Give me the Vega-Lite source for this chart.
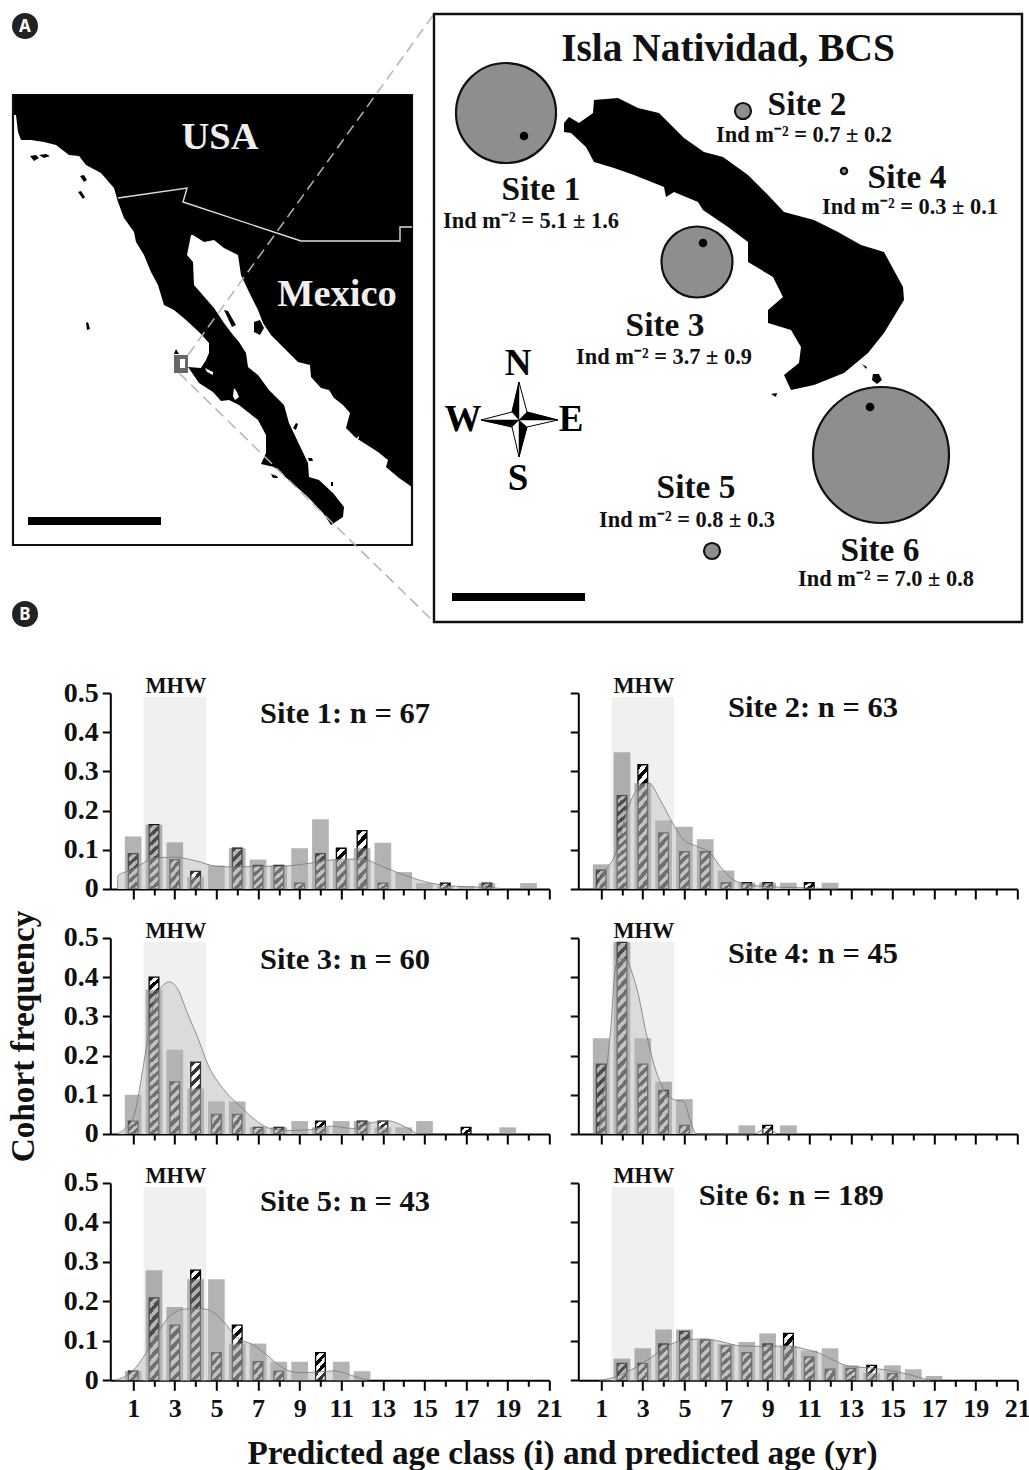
{"$schema":"https://vega.github.io/schema/vega-lite/v6.json","padding":{"left":5.3,"top":0,"right":0,"bottom":0},"background":"white","columns":2,"bounds":"flush","align":"each","spacing":{"row":49,"column":29},
"params":[
{"name":"g2","value":{"gradient":"linear","x1":0,"y1":0,"x2":1.088,"y2":0.899,"stops":[{"offset":0,"color":"#000"},{"offset":0.25,"color":"#000"},{"offset":0.25,"color":"#fff"},{"offset":0.5,"color":"#fff"},{"offset":0.5,"color":"#000"},{"offset":0.75,"color":"#000"},{"offset":0.75,"color":"#fff"},{"offset":1,"color":"#fff"}]}},
{"name":"g3","value":{"gradient":"linear","x1":0,"y1":0,"x2":0.712,"y2":1.175,"stops":[{"offset":0,"color":"#000"},{"offset":0.1667,"color":"#000"},{"offset":0.1667,"color":"#fff"},{"offset":0.3333,"color":"#fff"},{"offset":0.3333,"color":"#000"},{"offset":0.5,"color":"#000"},{"offset":0.5,"color":"#fff"},{"offset":0.6667,"color":"#fff"},{"offset":0.6667,"color":"#000"},{"offset":0.8333,"color":"#000"},{"offset":0.8333,"color":"#fff"},{"offset":1,"color":"#fff"}]}},
{"name":"g4","value":{"gradient":"linear","x1":0,"y1":0,"x2":0.468,"y2":1.206,"stops":[{"offset":0,"color":"#000"},{"offset":0.125,"color":"#000"},{"offset":0.125,"color":"#fff"},{"offset":0.25,"color":"#fff"},{"offset":0.25,"color":"#000"},{"offset":0.375,"color":"#000"},{"offset":0.375,"color":"#fff"},{"offset":0.5,"color":"#fff"},{"offset":0.5,"color":"#000"},{"offset":0.625,"color":"#000"},{"offset":0.625,"color":"#fff"},{"offset":0.75,"color":"#fff"},{"offset":0.75,"color":"#000"},{"offset":0.875,"color":"#000"},{"offset":0.875,"color":"#fff"},{"offset":1,"color":"#fff"}]}},
{"name":"g5","value":{"gradient":"linear","x1":0,"y1":0,"x2":0.2846,"y2":1.1735,"stops":[{"offset":0,"color":"#000"},{"offset":0.1,"color":"#000"},{"offset":0.1,"color":"#fff"},{"offset":0.2,"color":"#fff"},{"offset":0.2,"color":"#000"},{"offset":0.3,"color":"#000"},{"offset":0.3,"color":"#fff"},{"offset":0.4,"color":"#fff"},{"offset":0.4,"color":"#000"},{"offset":0.5,"color":"#000"},{"offset":0.5,"color":"#fff"},{"offset":0.6,"color":"#fff"},{"offset":0.6,"color":"#000"},{"offset":0.7,"color":"#000"},{"offset":0.7,"color":"#fff"},{"offset":0.8,"color":"#fff"},{"offset":0.8,"color":"#000"},{"offset":0.9,"color":"#000"},{"offset":0.9,"color":"#fff"},{"offset":1,"color":"#fff"}]}},
{"name":"g6","value":{"gradient":"linear","x1":0,"y1":0,"x2":0.2057,"y2":1.143,"stops":[{"offset":0,"color":"#000"},{"offset":0.0833,"color":"#000"},{"offset":0.0833,"color":"#fff"},{"offset":0.1667,"color":"#fff"},{"offset":0.1667,"color":"#000"},{"offset":0.25,"color":"#000"},{"offset":0.25,"color":"#fff"},{"offset":0.3333,"color":"#fff"},{"offset":0.3333,"color":"#000"},{"offset":0.4167,"color":"#000"},{"offset":0.4167,"color":"#fff"},{"offset":0.5,"color":"#fff"},{"offset":0.5,"color":"#000"},{"offset":0.5833,"color":"#000"},{"offset":0.5833,"color":"#fff"},{"offset":0.6667,"color":"#fff"},{"offset":0.6667,"color":"#000"},{"offset":0.75,"color":"#000"},{"offset":0.75,"color":"#fff"},{"offset":0.8333,"color":"#fff"},{"offset":0.8333,"color":"#000"},{"offset":0.9167,"color":"#000"},{"offset":0.9167,"color":"#fff"},{"offset":1,"color":"#fff"}]}},
{"name":"g8","value":{"gradient":"linear","x1":0,"y1":0,"x2":0.15,"y2":1.1145,"stops":[{"offset":0,"color":"#000"},{"offset":0.0625,"color":"#000"},{"offset":0.0625,"color":"#fff"},{"offset":0.125,"color":"#fff"},{"offset":0.125,"color":"#000"},{"offset":0.1875,"color":"#000"},{"offset":0.1875,"color":"#fff"},{"offset":0.25,"color":"#fff"},{"offset":0.25,"color":"#000"},{"offset":0.3125,"color":"#000"},{"offset":0.3125,"color":"#fff"},{"offset":0.375,"color":"#fff"},{"offset":0.375,"color":"#000"},{"offset":0.4375,"color":"#000"},{"offset":0.4375,"color":"#fff"},{"offset":0.5,"color":"#fff"},{"offset":0.5,"color":"#000"},{"offset":0.5625,"color":"#000"},{"offset":0.5625,"color":"#fff"},{"offset":0.625,"color":"#fff"},{"offset":0.625,"color":"#000"},{"offset":0.6875,"color":"#000"},{"offset":0.6875,"color":"#fff"},{"offset":0.75,"color":"#fff"},{"offset":0.75,"color":"#000"},{"offset":0.8125,"color":"#000"},{"offset":0.8125,"color":"#fff"},{"offset":0.875,"color":"#fff"},{"offset":0.875,"color":"#000"},{"offset":0.9375,"color":"#000"},{"offset":0.9375,"color":"#fff"},{"offset":1,"color":"#fff"}]}},
{"name":"g12","value":{"gradient":"linear","x1":0,"y1":0,"x2":0.0952,"y2":1.0798,"stops":[{"offset":0,"color":"#000"},{"offset":0.0417,"color":"#000"},{"offset":0.0417,"color":"#fff"},{"offset":0.0833,"color":"#fff"},{"offset":0.0833,"color":"#000"},{"offset":0.125,"color":"#000"},{"offset":0.125,"color":"#fff"},{"offset":0.1667,"color":"#fff"},{"offset":0.1667,"color":"#000"},{"offset":0.2083,"color":"#000"},{"offset":0.2083,"color":"#fff"},{"offset":0.25,"color":"#fff"},{"offset":0.25,"color":"#000"},{"offset":0.2917,"color":"#000"},{"offset":0.2917,"color":"#fff"},{"offset":0.3333,"color":"#fff"},{"offset":0.3333,"color":"#000"},{"offset":0.375,"color":"#000"},{"offset":0.375,"color":"#fff"},{"offset":0.4167,"color":"#fff"},{"offset":0.4167,"color":"#000"},{"offset":0.4583,"color":"#000"},{"offset":0.4583,"color":"#fff"},{"offset":0.5,"color":"#fff"},{"offset":0.5,"color":"#000"},{"offset":0.5417,"color":"#000"},{"offset":0.5417,"color":"#fff"},{"offset":0.5833,"color":"#fff"},{"offset":0.5833,"color":"#000"},{"offset":0.625,"color":"#000"},{"offset":0.625,"color":"#fff"},{"offset":0.6667,"color":"#fff"},{"offset":0.6667,"color":"#000"},{"offset":0.7083,"color":"#000"},{"offset":0.7083,"color":"#fff"},{"offset":0.75,"color":"#fff"},{"offset":0.75,"color":"#000"},{"offset":0.7917,"color":"#000"},{"offset":0.7917,"color":"#fff"},{"offset":0.8333,"color":"#fff"},{"offset":0.8333,"color":"#000"},{"offset":0.875,"color":"#000"},{"offset":0.875,"color":"#fff"},{"offset":0.9167,"color":"#fff"},{"offset":0.9167,"color":"#000"},{"offset":0.9583,"color":"#000"},{"offset":0.9583,"color":"#fff"},{"offset":1,"color":"#fff"}]}},
{"name":"g18","value":{"gradient":"linear","x1":0,"y1":0,"x2":0.0583,"y2":1.0522,"stops":[{"offset":0,"color":"#000"},{"offset":0.0278,"color":"#000"},{"offset":0.0278,"color":"#fff"},{"offset":0.0556,"color":"#fff"},{"offset":0.0556,"color":"#000"},{"offset":0.0833,"color":"#000"},{"offset":0.0833,"color":"#fff"},{"offset":0.1111,"color":"#fff"},{"offset":0.1111,"color":"#000"},{"offset":0.1389,"color":"#000"},{"offset":0.1389,"color":"#fff"},{"offset":0.1667,"color":"#fff"},{"offset":0.1667,"color":"#000"},{"offset":0.1944,"color":"#000"},{"offset":0.1944,"color":"#fff"},{"offset":0.2222,"color":"#fff"},{"offset":0.2222,"color":"#000"},{"offset":0.25,"color":"#000"},{"offset":0.25,"color":"#fff"},{"offset":0.2778,"color":"#fff"},{"offset":0.2778,"color":"#000"},{"offset":0.3056,"color":"#000"},{"offset":0.3056,"color":"#fff"},{"offset":0.3333,"color":"#fff"},{"offset":0.3333,"color":"#000"},{"offset":0.3611,"color":"#000"},{"offset":0.3611,"color":"#fff"},{"offset":0.3889,"color":"#fff"},{"offset":0.3889,"color":"#000"},{"offset":0.4167,"color":"#000"},{"offset":0.4167,"color":"#fff"},{"offset":0.4444,"color":"#fff"},{"offset":0.4444,"color":"#000"},{"offset":0.4722,"color":"#000"},{"offset":0.4722,"color":"#fff"},{"offset":0.5,"color":"#fff"},{"offset":0.5,"color":"#000"},{"offset":0.5278,"color":"#000"},{"offset":0.5278,"color":"#fff"},{"offset":0.5556,"color":"#fff"},{"offset":0.5556,"color":"#000"},{"offset":0.5833,"color":"#000"},{"offset":0.5833,"color":"#fff"},{"offset":0.6111,"color":"#fff"},{"offset":0.6111,"color":"#000"},{"offset":0.6389,"color":"#000"},{"offset":0.6389,"color":"#fff"},{"offset":0.6667,"color":"#fff"},{"offset":0.6667,"color":"#000"},{"offset":0.6944,"color":"#000"},{"offset":0.6944,"color":"#fff"},{"offset":0.7222,"color":"#fff"},{"offset":0.7222,"color":"#000"},{"offset":0.75,"color":"#000"},{"offset":0.75,"color":"#fff"},{"offset":0.7778,"color":"#fff"},{"offset":0.7778,"color":"#000"},{"offset":0.8056,"color":"#000"},{"offset":0.8056,"color":"#fff"},{"offset":0.8333,"color":"#fff"},{"offset":0.8333,"color":"#000"},{"offset":0.8611,"color":"#000"},{"offset":0.8611,"color":"#fff"},{"offset":0.8889,"color":"#fff"},{"offset":0.8889,"color":"#000"},{"offset":0.9167,"color":"#000"},{"offset":0.9167,"color":"#fff"},{"offset":0.9444,"color":"#fff"},{"offset":0.9444,"color":"#000"},{"offset":0.9722,"color":"#000"},{"offset":0.9722,"color":"#fff"},{"offset":1,"color":"#fff"}]}}
],
"datasets":{
"mhw":[{"from":1.5,"to":4.5,"low":0,"high":0.49}],
"notes":[
{"site":1,"t":"MHW","age":3.05,"v":0.5,"kind":"band"},{"site":1,"t":"Site 1: n = 67","age":11.18,"v":0.446,"kind":"n"},
{"site":2,"t":"MHW","age":3.05,"v":0.5,"kind":"band"},{"site":2,"t":"Site 2: n = 63","age":11.18,"v":0.462,"kind":"n"},
{"site":3,"t":"MHW","age":3.05,"v":0.5,"kind":"band"},{"site":3,"t":"Site 3: n = 60","age":11.18,"v":0.445,"kind":"n"},
{"site":4,"t":"MHW","age":3.05,"v":0.5,"kind":"band"},{"site":4,"t":"Site 4: n = 45","age":11.18,"v":0.46,"kind":"n"},
{"site":5,"t":"MHW","age":3.05,"v":0.5,"kind":"band"},{"site":5,"t":"Site 5: n = 43","age":11.18,"v":0.452,"kind":"n"},
{"site":6,"t":"MHW","age":3.05,"v":0.5,"kind":"band"},{"site":6,"t":"Site 6: n = 189","age":10.14,"v":0.467,"kind":"n"}
],
"hatched":[
{"site":1,"age":1,"v":0.09},{"site":1,"age":2,"v":0.164},{"site":1,"age":3,"v":0.075},{"site":1,"age":4,"v":0.045},{"site":1,"age":6,"v":0.104},{"site":1,"age":7,"v":0.06},{"site":1,"age":8,"v":0.06},{"site":1,"age":9,"v":0.015},{"site":1,"age":10,"v":0.09},{"site":1,"age":11,"v":0.104},{"site":1,"age":12,"v":0.149},{"site":1,"age":13,"v":0.015},{"site":1,"age":16,"v":0.015},{"site":1,"age":18,"v":0.015},
{"site":2,"age":1,"v":0.048},{"site":2,"age":2,"v":0.238},{"site":2,"age":3,"v":0.317},{"site":2,"age":4,"v":0.143},{"site":2,"age":5,"v":0.095},{"site":2,"age":6,"v":0.095},{"site":2,"age":7,"v":0.016},{"site":2,"age":8,"v":0.016},{"site":2,"age":9,"v":0.016},{"site":2,"age":11,"v":0.016},
{"site":3,"age":1,"v":0.033},{"site":3,"age":2,"v":0.4},{"site":3,"age":3,"v":0.133},{"site":3,"age":4,"v":0.183},{"site":3,"age":5,"v":0.05},{"site":3,"age":6,"v":0.05},{"site":3,"age":7,"v":0.017},{"site":3,"age":8,"v":0.017},{"site":3,"age":10,"v":0.033},{"site":3,"age":12,"v":0.033},{"site":3,"age":13,"v":0.033},{"site":3,"age":17,"v":0.017},
{"site":4,"age":1,"v":0.178},{"site":4,"age":2,"v":0.489},{"site":4,"age":3,"v":0.178},{"site":4,"age":4,"v":0.111},{"site":4,"age":5,"v":0.022},{"site":4,"age":9,"v":0.022},
{"site":5,"age":1,"v":0.023},{"site":5,"age":2,"v":0.209},{"site":5,"age":3,"v":0.14},{"site":5,"age":4,"v":0.279},{"site":5,"age":5,"v":0.07},{"site":5,"age":6,"v":0.14},{"site":5,"age":7,"v":0.047},{"site":5,"age":8,"v":0.023},{"site":5,"age":10,"v":0.07},
{"site":6,"age":2,"v":0.043},{"site":6,"age":3,"v":0.043},{"site":6,"age":4,"v":0.092},{"site":6,"age":5,"v":0.124},{"site":6,"age":6,"v":0.102},{"site":6,"age":7,"v":0.087},{"site":6,"age":8,"v":0.07},{"site":6,"age":9,"v":0.092},{"site":6,"age":10,"v":0.119},{"site":6,"age":11,"v":0.059},{"site":6,"age":12,"v":0.028},{"site":6,"age":13,"v":0.03},{"site":6,"age":14,"v":0.038},{"site":6,"age":15,"v":0.017}
],
"light":[
{"site":1,"age":1,"v":0.134},{"site":1,"age":2,"v":0.164},{"site":1,"age":3,"v":0.119},{"site":1,"age":4,"v":0.03},{"site":1,"age":5,"v":0.06},{"site":1,"age":6,"v":0.104},{"site":1,"age":7,"v":0.075},{"site":1,"age":8,"v":0.06},{"site":1,"age":9,"v":0.104},{"site":1,"age":10,"v":0.178},{"site":1,"age":11,"v":0.074},{"site":1,"age":12,"v":0.104},{"site":1,"age":13,"v":0.118},{"site":1,"age":14,"v":0.043},{"site":1,"age":15,"v":0.015},{"site":1,"age":16,"v":0.007},{"site":1,"age":17,"v":0.007},{"site":1,"age":18,"v":0.015},{"site":1,"age":20,"v":0.015},
{"site":2,"age":1,"v":0.063},{"site":2,"age":2,"v":0.349},{"site":2,"age":3,"v":0.27},{"site":2,"age":4,"v":0.175},{"site":2,"age":5,"v":0.159},{"site":2,"age":6,"v":0.127},{"site":2,"age":7,"v":0.047},{"site":2,"age":8,"v":0.016},{"site":2,"age":9,"v":0.016},{"site":2,"age":10,"v":0.016},{"site":2,"age":12,"v":0.016},
{"site":3,"age":1,"v":0.1},{"site":3,"age":2,"v":0.368},{"site":3,"age":3,"v":0.215},{"site":3,"age":4,"v":0.116},{"site":3,"age":5,"v":0.083},{"site":3,"age":6,"v":0.083},{"site":3,"age":7,"v":0.017},{"site":3,"age":8,"v":0.017},{"site":3,"age":9,"v":0.033},{"site":3,"age":10,"v":0.017},{"site":3,"age":11,"v":0.033},{"site":3,"age":12,"v":0.033},{"site":3,"age":13,"v":0.017},{"site":3,"age":14,"v":0.017},{"site":3,"age":15,"v":0.033},{"site":3,"age":19,"v":0.017},
{"site":4,"age":1,"v":0.244},{"site":4,"age":2,"v":0.489},{"site":4,"age":3,"v":0.244},{"site":4,"age":4,"v":0.133},{"site":4,"age":5,"v":0.089},{"site":4,"age":8,"v":0.022},{"site":4,"age":10,"v":0.022},
{"site":5,"age":1,"v":0.023},{"site":5,"age":2,"v":0.279},{"site":5,"age":3,"v":0.186},{"site":5,"age":4,"v":0.256},{"site":5,"age":5,"v":0.256},{"site":5,"age":6,"v":0.093},{"site":5,"age":7,"v":0.093},{"site":5,"age":8,"v":0.047},{"site":5,"age":9,"v":0.047},{"site":5,"age":11,"v":0.047},{"site":5,"age":12,"v":0.023},
{"site":6,"age":2,"v":0.055},{"site":6,"age":3,"v":0.081},{"site":6,"age":4,"v":0.129},{"site":6,"age":5,"v":0.129},{"site":6,"age":6,"v":0.102},{"site":6,"age":7,"v":0.092},{"site":6,"age":8,"v":0.097},{"site":6,"age":9,"v":0.119},{"site":6,"age":10,"v":0.087},{"site":6,"age":11,"v":0.075},{"site":6,"age":12,"v":0.081},{"site":6,"age":13,"v":0.038},{"site":6,"age":14,"v":0.019},{"site":6,"age":15,"v":0.038},{"site":6,"age":16,"v":0.028},{"site":6,"age":17,"v":0.011}
],
"kde":[
{"site":1,"age":0.25,"v":0},{"site":1,"age":0.26,"v":0.034},{"site":1,"age":1,"v":0.05},{"site":1,"age":2,"v":0.079},{"site":1,"age":3,"v":0.081},{"site":1,"age":4,"v":0.072},{"site":1,"age":5,"v":0.058},{"site":1,"age":6,"v":0.056},{"site":1,"age":7,"v":0.058},{"site":1,"age":8,"v":0.058},{"site":1,"age":9,"v":0.062},{"site":1,"age":10,"v":0.07},{"site":1,"age":11,"v":0.076},{"site":1,"age":12,"v":0.076},{"site":1,"age":13,"v":0.057},{"site":1,"age":14,"v":0.036},{"site":1,"age":15,"v":0.019},{"site":1,"age":16,"v":0.009},{"site":1,"age":17,"v":0.006},{"site":1,"age":18,"v":0.004},{"site":1,"age":19,"v":0},
{"site":2,"age":0.73,"v":0},{"site":2,"age":1,"v":0.031},{"site":2,"age":1.69,"v":0.091},{"site":2,"age":2.25,"v":0.2},{"site":2,"age":2.9,"v":0.264},{"site":2,"age":3.29,"v":0.27},{"site":2,"age":3.85,"v":0.226},{"site":2,"age":4.49,"v":0.163},{"site":2,"age":4.97,"v":0.125},{"site":2,"age":5.6,"v":0.109},{"site":2,"age":6.25,"v":0.091},{"site":2,"age":6.73,"v":0.057},{"site":2,"age":7.37,"v":0.023},{"site":2,"age":8,"v":0.012},{"site":2,"age":9,"v":0.006},{"site":2,"age":10.7,"v":0.003},{"site":2,"age":12.3,"v":0},
{"site":3,"age":0.23,"v":0},{"site":3,"age":0.55,"v":0.011},{"site":3,"age":1.03,"v":0.045},{"site":3,"age":1.51,"v":0.181},{"site":3,"age":1.99,"v":0.334},{"site":3,"age":2.39,"v":0.377},{"site":3,"age":2.75,"v":0.388},{"site":3,"age":3.12,"v":0.372},{"site":3,"age":3.6,"v":0.309},{"site":3,"age":4.08,"v":0.249},{"site":3,"age":4.56,"v":0.181},{"site":3,"age":5.36,"v":0.113},{"site":3,"age":6.16,"v":0.07},{"site":3,"age":6.96,"v":0.032},{"site":3,"age":7.6,"v":0.014},{"site":3,"age":8.56,"v":0.009},{"site":3,"age":9.53,"v":0.011},{"site":3,"age":10.49,"v":0.02},{"site":3,"age":11.6,"v":0.014},{"site":3,"age":12.41,"v":0.028},{"site":3,"age":13.21,"v":0.034},{"site":3,"age":13.85,"v":0.024},{"site":3,"age":14.65,"v":0},
{"site":4,"age":0.89,"v":0},{"site":4,"age":1.13,"v":0.109},{"site":4,"age":1.45,"v":0.263},{"site":4,"age":1.69,"v":0.425},{"site":4,"age":1.93,"v":0.446},{"site":4,"age":2.17,"v":0.447},{"site":4,"age":2.49,"v":0.41},{"site":4,"age":2.81,"v":0.35},{"site":4,"age":3.13,"v":0.265},{"site":4,"age":3.69,"v":0.152},{"site":4,"age":4.17,"v":0.101},{"site":4,"age":4.49,"v":0.088},{"site":4,"age":4.97,"v":0.082},{"site":4,"age":5.29,"v":0.033},{"site":4,"age":5.58,"v":0},{"site":4,"age":8.33,"v":0},{"site":4,"age":8.92,"v":0.015},{"site":4,"age":9.45,"v":0},
{"site":5,"age":0.15,"v":0},{"site":5,"age":1,"v":0.025},{"site":5,"age":1.59,"v":0.067},{"site":5,"age":2.15,"v":0.118},{"site":5,"age":2.79,"v":0.164},{"site":5,"age":3.6,"v":0.181},{"site":5,"age":4.4,"v":0.181},{"site":5,"age":5.36,"v":0.148},{"site":5,"age":5.95,"v":0.11},{"site":5,"age":6.8,"v":0.089},{"site":5,"age":7.44,"v":0.063},{"site":5,"age":8.24,"v":0.03},{"site":5,"age":9.04,"v":0.019},{"site":5,"age":9.85,"v":0.021},{"site":5,"age":10.65,"v":0.024},{"site":5,"age":11.45,"v":0.013},{"site":5,"age":12.25,"v":0},
{"site":6,"age":0.92,"v":0},{"site":6,"age":1.64,"v":0.008},{"site":6,"age":2.36,"v":0.024},{"site":6,"age":3.41,"v":0.058},{"site":6,"age":4.37,"v":0.092},{"site":6,"age":5.01,"v":0.102},{"site":6,"age":5.98,"v":0.105},{"site":6,"age":6.78,"v":0.098},{"site":6,"age":7.74,"v":0.087},{"site":6,"age":9.03,"v":0.086},{"site":6,"age":9.99,"v":0.087},{"site":6,"age":10.79,"v":0.079},{"site":6,"age":11.43,"v":0.07},{"site":6,"age":12.24,"v":0.049},{"site":6,"age":12.88,"v":0.036},{"site":6,"age":14,"v":0.031},{"site":6,"age":14.96,"v":0.024},{"site":6,"age":15.77,"v":0.015},{"site":6,"age":16.57,"v":0.003},{"site":6,"age":16.8,"v":0}
]},
"concat":[
{"width":439,"height":643.7,"projection":{"type":"identity","scale":1,"translate":[-109.3,0]},"layer":[
{"data":{"values":[{"type":"Feature","properties":{},"geometry":{"type":"Polygon","coordinates":[[[12,95],[411,95],[411,545],[12,545],[12,95]]]}}]},"mark":{"type":"geoshape","clip":false,"fill":"white","stroke":"#111","strokeWidth":2.2},"encoding":{}},
{"data":{"values":[{"type":"Feature","properties":{},"geometry":{"type":"MultiPolygon","coordinates":[[[[13,95],[411,95],[411,487],[398,478],[385,467],[387,460],[377,452],[363,443],[355,438],[345,428],[349,413],[342,405],[333,398],[328,390],[320,388],[310,377],[309,365],[297,362],[283,348],[270,335],[262,323],[257,310],[248,292],[240,275],[237,255],[223,248],[213,240],[203,242],[192,235],[190,235],[186,255],[192,262],[193,285],[213,308],[223,323],[232,335],[238,342],[245,353],[247,367],[257,375],[268,390],[275,397],[283,405],[288,423],[297,442],[307,463],[308,477],[318,480],[332,493],[343,507],[342,517],[330,525],[322,513],[307,497],[290,482],[273,467],[260,464],[265,453],[265,435],[257,420],[238,405],[228,400],[220,401],[212,392],[198,383],[187,367],[200,368],[205,360],[208,353],[208,343],[198,332],[185,320],[173,310],[163,305],[157,285],[150,272],[143,255],[135,242],[133,232],[123,218],[117,202],[113,188],[100,173],[85,165],[78,156],[68,155],[55,145],[43,142],[30,140],[20,140],[17,132],[15,115],[13,115],[13,95]]],[[[253,322],[259,320],[263,328],[259,335],[253,332],[253,322]]],[[[223,310],[227,311],[235,325],[231,327],[223,310]]],[[[292,428],[295,423],[297,424],[295,430],[292,428]]],[[[307,458],[311,458],[312,461],[308,461],[307,458]]],[[[330,482],[332,482],[332,486],[330,486],[330,482]]],[[[270,474],[276,476],[277,478],[272,478],[270,474]]],[[[173,354],[175,349],[178,354],[173,354]]],[[[29,156],[35,155],[38,158],[33,161],[29,156]]],[[[38,155],[45,154],[49,156],[43,158],[38,155]]],[[[79,176],[83,175],[86,180],[83,182],[79,176]]],[[[77,192],[80,191],[84,197],[82,199],[77,192]]],[[[85,323],[87,322],[89,329],[86,330],[85,323]]]]}}]},"mark":{"type":"geoshape","clip":false,"fill":"#000","stroke":null},"encoding":{}},
{"data":{"values":[{"type":"Feature","properties":{},"geometry":{"type":"MultiPolygon","coordinates":[[[[233,388],[236,392],[238,397],[234,400],[232,396],[233,388]]],[[[354,440],[358,436],[358,438],[355,441],[354,440]]],[[[204,368],[212,372],[212,375],[206,372],[204,368]]]]}}]},"mark":{"type":"geoshape","clip":false,"fill":"#fff","stroke":null},"encoding":{}},
{"data":{"values":[{"type":"Feature","properties":{},"geometry":{"type":"LineString","coordinates":[[117,198],[186,188],[182,202],[300,241],[399,241],[399,227],[411,227]]}}]},"mark":{"type":"geoshape","clip":false,"filled":false,"fill":null,"stroke":"#ddd","strokeWidth":1.4},"encoding":{}},
{"data":{"values":[{"type":"Feature","properties":{},"geometry":{"type":"Polygon","coordinates":[[[173,355],[187,355],[187,373],[173,373],[173,355]]]}}]},"mark":{"type":"geoshape","clip":false,"fill":"#666","stroke":null},"encoding":{}},
{"data":{"values":[{"type":"Feature","properties":{},"geometry":{"type":"Polygon","coordinates":[[[179,359],[184,359],[184,368],[179,368],[179,359]]]}}]},"mark":{"type":"geoshape","clip":false,"fill":"#fff","stroke":null},"encoding":{}},
{"data":{"values":[{"type":"Feature","properties":{},"geometry":{"type":"MultiLineString","coordinates":[[[187,355],[433,14]],[[178,373],[433,622]]]}}]},"mark":{"type":"geoshape","clip":false,"filled":false,"fill":null,"stroke":"#b4b4b4","strokeWidth":1.5,"strokeDash":[11,6]},"encoding":{}},
{"data":{"values":[{"type":"Feature","properties":{},"geometry":{"type":"LineString","coordinates":[[27,521],[160,521]]}}]},"mark":{"type":"geoshape","clip":false,"filled":false,"fill":null,"stroke":"#000","strokeWidth":8},"encoding":{}},
{"data":{"values":[{"lon":219,"lat":137,"t":"USA"},{"lon":336,"lat":294,"t":"Mexico"}]},"mark":{"type":"text","clip":false,"fontSize":38.5,"color":"#eee","baseline":"middle"},"encoding":{"longitude":{"field":"lon","type":"quantitative"},"latitude":{"field":"lat","type":"quantitative"},"text":{"field":"t"}}},
{"data":{"values":[{"lon":24,"lat":26},{"lon":24,"lat":614}]},"mark":{"type":"point","clip":false,"filled":true,"size":676,"color":"#222","opacity":1},"encoding":{"longitude":{"field":"lon","type":"quantitative"},"latitude":{"field":"lat","type":"quantitative"}}},
{"data":{"values":[{"lon":24,"lat":27,"t":"A"},{"lon":24,"lat":615,"t":"B"}]},"mark":{"type":"text","clip":false,"font":"Noto Sans","fontSize":17,"color":"#fff","baseline":"middle"},"encoding":{"longitude":{"field":"lon","type":"quantitative"},"latitude":{"field":"lat","type":"quantitative"},"text":{"field":"t"}}},
{"data":{"values":[{"type":"Feature","properties":{},"geometry":{"type":"Polygon","coordinates":[[[433,14],[1021,14],[1021,622],[433,622],[433,14]]]}}]},"mark":{"type":"geoshape","clip":false,"fill":"white","stroke":"#111","strokeWidth":2.4},"encoding":{}},
{"data":{"values":[{"type":"Feature","properties":{},"geometry":{"type":"MultiPolygon","coordinates":[[[[563,123],[568,117],[578,123],[592,113],[593,100],[617,98],[637,108],[658,113],[683,138],[703,152],[722,157],[747,175],[767,195],[783,212],[813,220],[837,232],[860,245],[883,252],[902,287],[903,300],[883,333],[867,353],[843,373],[813,385],[790,390],[783,375],[798,363],[800,347],[790,330],[767,323],[767,310],[782,297],[772,277],[747,262],[747,242],[727,227],[702,210],[697,202],[673,192],[665,197],[663,187],[633,175],[613,168],[593,162],[585,147],[570,133],[563,132],[563,123]]],[[[872,374],[878,374],[881,380],[876,384],[871,380],[872,374]]],[[[770,394],[776,393],[775,397],[770,394]]],[[[861,364],[866,367],[865,369],[861,364]]]]}}]},"mark":{"type":"geoshape","clip":false,"fill":"#000","stroke":null},"encoding":{}},
{"data":{"values":[{"site":"Site 1","density":5.1,"lon":505,"lat":113},{"site":"Site 2","density":0.7,"lon":742,"lat":111},{"site":"Site 3","density":3.7,"lon":696,"lat":262},{"site":"Site 4","density":0.3,"lon":843,"lat":171},{"site":"Site 5","density":0.8,"lon":711,"lat":551},{"site":"Site 6","density":7.0,"lon":880,"lat":455}]},"mark":{"type":"point","clip":false,"filled":true,"fill":"#8e8e8e","stroke":"#111","strokeWidth":2.2,"opacity":1},"encoding":{"longitude":{"field":"lon","type":"quantitative"},"latitude":{"field":"lat","type":"quantitative"},"size":{"field":"density","type":"quantitative","legend":null,"scale":{"domain":[0.3,0.7,0.8,3.7,5.1,7],"range":[40,256,256,5041,10000,18496],"zero":false}}}},
{"data":{"values":[{"lon":523,"lat":136},{"lon":702,"lat":243},{"lon":869,"lat":407}]},"mark":{"type":"point","clip":false,"filled":true,"color":"#000","size":75,"opacity":1},"encoding":{"longitude":{"field":"lon","type":"quantitative"},"latitude":{"field":"lat","type":"quantitative"}}},
{"data":{"values":[{"type":"Feature","properties":{},"geometry":{"type":"Polygon","coordinates":[[[518,382],[526,412],[557,420],[526,427],[518,457],[511,427],[480,420],[511,412],[518,382]]]}}]},"mark":{"type":"geoshape","clip":false,"fill":"#fff","stroke":"#000","strokeWidth":1},"encoding":{}},
{"data":{"values":[{"type":"Feature","properties":{},"geometry":{"type":"MultiPolygon","coordinates":[[[[518,382],[518,420],[511,412],[518,382]]],[[[557,420],[518,420],[526,412],[557,420]]],[[[518,457],[518,420],[526,427],[518,457]]],[[[480,420],[518,420],[511,427],[480,420]]]]}}]},"mark":{"type":"geoshape","clip":false,"fill":"#000","stroke":"#000","strokeWidth":0.5},"encoding":{}},
{"data":{"values":[{"type":"Feature","properties":{},"geometry":{"type":"LineString","coordinates":[[451,597],[584,597]]}}]},"mark":{"type":"geoshape","clip":false,"filled":false,"fill":null,"stroke":"#000","strokeWidth":8},"encoding":{}},
{"data":{"values":[{"lon":727,"lat":49,"t":"Isla Natividad, BCS"}]},"mark":{"type":"text","clip":false,"fontSize":39.4,"color":"#111","baseline":"middle"},"encoding":{"longitude":{"field":"lon","type":"quantitative"},"latitude":{"field":"lat","type":"quantitative"},"text":{"field":"t"}}},
{"data":{"values":[{"lon":540,"lat":190,"t":"Site 1"},{"lon":806,"lat":105,"t":"Site 2"},{"lon":906,"lat":178,"t":"Site 4"},{"lon":664,"lat":326,"t":"Site 3"},{"lon":695,"lat":488,"t":"Site 5"},{"lon":879,"lat":551,"t":"Site 6"}]},"mark":{"type":"text","clip":false,"fontSize":33.4,"color":"#111","baseline":"middle"},"encoding":{"longitude":{"field":"lon","type":"quantitative"},"latitude":{"field":"lat","type":"quantitative"},"text":{"field":"t"}}},
{"data":{"values":[{"lon":530,"lat":221,"t":"Ind m⁻² = 5.1 ± 1.6"},{"lon":803,"lat":135,"t":"Ind m⁻² = 0.7 ± 0.2"},{"lon":909,"lat":207,"t":"Ind m⁻² = 0.3 ± 0.1"},{"lon":663,"lat":357,"t":"Ind m⁻² = 3.7 ± 0.9"},{"lon":686,"lat":520,"t":"Ind m⁻² = 0.8 ± 0.3"},{"lon":885,"lat":579,"t":"Ind m⁻² = 7.0 ± 0.8"}]},"mark":{"type":"text","clip":false,"fontSize":22.4,"color":"#111","baseline":"middle"},"encoding":{"longitude":{"field":"lon","type":"quantitative"},"latitude":{"field":"lat","type":"quantitative"},"text":{"field":"t"}}},
{"data":{"values":[{"lon":517,"lat":364,"t":"N"},{"lon":517,"lat":479,"t":"S"},{"lon":462,"lat":420,"t":"W"},{"lon":570,"lat":420,"t":"E"}]},"mark":{"type":"text","clip":false,"fontSize":37,"color":"#000","baseline":"middle"},"encoding":{"longitude":{"field":"lon","type":"quantitative"},"latitude":{"field":"lat","type":"quantitative"},"text":{"field":"t"}}}
]},
{"width":439,"height":643.7,"data":{"values":[]},"mark":{"type":"text"},"encoding":{}},
{"width":439,"height":196,"encoding":{"x":{"field":"age","type":"quantitative","scale":{"domain":[-0.1,21],"nice":false,"zero":false,"padding":0},"axis":{"values":[1,2,3,4,5,6,7,8,9,10,11,12,13,14,15,16,17,18,19,20,21],"labels":false,"title":null,"tickSize":{"condition":{"test":"datum.value%2==1","value":10},"value":6}}},"y":{"field":"v","type":"quantitative","scale":{"domain":[0,0.5],"nice":false},"axis":{"values":[0,0.1,0.2,0.3,0.4,0.5],"title":null,"labelExpr":"datum.value==0?'0':format(datum.value,'.1f')"}}},"layer":[
{"data":{"name":"mhw"},"mark":{"type":"rect","color":"#f0f0f0"},"encoding":{"x":{"field":"from","type":"quantitative"},"x2":{"field":"to"},"y":{"field":"low","type":"quantitative"},"y2":{"field":"high"}}},
{"data":{"name":"kde"},"transform":[{"filter":"datum.site==1"}],"mark":{"type":"area","interpolate":"monotone","fill":"#d2d2d2"}},
{"data":{"name":"hatched"},"transform":[{"filter":"datum.site==1"}],"mark":{"type":"bar","orient":"vertical","width":9.7,"stroke":"#000","strokeWidth":1.3,"fill":{"expr":"datum.v<.03?g2:datum.v<.055?g3:datum.v<.08?g4:datum.v<.12?g5:datum.v<.15?g6:datum.v<.22?g8:datum.v<.33?g12:g18"}}},
{"data":{"name":"light"},"transform":[{"filter":"datum.site==1"}],"mark":{"type":"bar","orient":"vertical","width":16.7,"color":"#808080","opacity":0.6}},
{"data":{"name":"kde"},"transform":[{"filter":"datum.site==1"}],"mark":{"type":"area","interpolate":"monotone","fill":"#fff","fillOpacity":0.2,"line":{"color":"#777","strokeWidth":0.8}}},
{"data":{"name":"notes"},"transform":[{"filter":"datum.site==1&&datum.kind=='band'"}],"mark":{"type":"text","fontSize":22.4,"baseline":"alphabetic"},"encoding":{"text":{"field":"t"}}},
{"data":{"name":"notes"},"transform":[{"filter":"datum.site==1&&datum.kind=='n'"}],"mark":{"type":"text","fontSize":30.5,"baseline":"middle"},"encoding":{"text":{"field":"t"}}}
]},
{"width":439,"height":196,"encoding":{"x":{"field":"age","type":"quantitative","scale":{"domain":[-0.1,21],"nice":false,"zero":false,"padding":0},"axis":{"values":[1,2,3,4,5,6,7,8,9,10,11,12,13,14,15,16,17,18,19,20,21],"labels":false,"title":null,"tickSize":{"condition":{"test":"datum.value%2==1","value":10},"value":6}}},"y":{"field":"v","type":"quantitative","scale":{"domain":[0,0.5],"nice":false},"axis":{"values":[0,0.1,0.2,0.3,0.4,0.5],"title":null,"labels":false}}},"layer":[
{"data":{"name":"mhw"},"mark":{"type":"rect","color":"#f0f0f0"},"encoding":{"x":{"field":"from","type":"quantitative"},"x2":{"field":"to"},"y":{"field":"low","type":"quantitative"},"y2":{"field":"high"}}},
{"data":{"name":"kde"},"transform":[{"filter":"datum.site==2"}],"mark":{"type":"area","interpolate":"monotone","fill":"#d2d2d2"}},
{"data":{"name":"hatched"},"transform":[{"filter":"datum.site==2"}],"mark":{"type":"bar","orient":"vertical","width":9.7,"stroke":"#000","strokeWidth":1.3,"fill":{"expr":"datum.v<.03?g2:datum.v<.055?g3:datum.v<.08?g4:datum.v<.12?g5:datum.v<.15?g6:datum.v<.22?g8:datum.v<.33?g12:g18"}}},
{"data":{"name":"light"},"transform":[{"filter":"datum.site==2"}],"mark":{"type":"bar","orient":"vertical","width":16.7,"color":"#808080","opacity":0.6}},
{"data":{"name":"kde"},"transform":[{"filter":"datum.site==2"}],"mark":{"type":"area","interpolate":"monotone","fill":"#fff","fillOpacity":0.2,"line":{"color":"#777","strokeWidth":0.8}}},
{"data":{"name":"notes"},"transform":[{"filter":"datum.site==2&&datum.kind=='band'"}],"mark":{"type":"text","fontSize":22.4,"baseline":"alphabetic"},"encoding":{"text":{"field":"t"}}},
{"data":{"name":"notes"},"transform":[{"filter":"datum.site==2&&datum.kind=='n'"}],"mark":{"type":"text","fontSize":30.5,"baseline":"middle"},"encoding":{"text":{"field":"t"}}}
]},
{"width":439,"height":196,"encoding":{"x":{"field":"age","type":"quantitative","scale":{"domain":[-0.1,21],"nice":false,"zero":false,"padding":0},"axis":{"values":[1,2,3,4,5,6,7,8,9,10,11,12,13,14,15,16,17,18,19,20,21],"labels":false,"title":null,"tickSize":{"condition":{"test":"datum.value%2==1","value":10},"value":6}}},"y":{"field":"v","type":"quantitative","scale":{"domain":[0,0.5],"nice":false},"axis":{"values":[0,0.1,0.2,0.3,0.4,0.5],"title":"Cohort frequency","titleFontSize":33.3,"titleX":-70,"titleY":98,"labelExpr":"datum.value==0?'0':format(datum.value,'.1f')"}}},"layer":[
{"data":{"name":"mhw"},"mark":{"type":"rect","color":"#f0f0f0"},"encoding":{"x":{"field":"from","type":"quantitative"},"x2":{"field":"to"},"y":{"field":"low","type":"quantitative"},"y2":{"field":"high"}}},
{"data":{"name":"kde"},"transform":[{"filter":"datum.site==3"}],"mark":{"type":"area","interpolate":"monotone","fill":"#d2d2d2"}},
{"data":{"name":"hatched"},"transform":[{"filter":"datum.site==3"}],"mark":{"type":"bar","orient":"vertical","width":9.7,"stroke":"#000","strokeWidth":1.3,"fill":{"expr":"datum.v<.03?g2:datum.v<.055?g3:datum.v<.08?g4:datum.v<.12?g5:datum.v<.15?g6:datum.v<.22?g8:datum.v<.33?g12:g18"}}},
{"data":{"name":"light"},"transform":[{"filter":"datum.site==3"}],"mark":{"type":"bar","orient":"vertical","width":16.7,"color":"#808080","opacity":0.6}},
{"data":{"name":"kde"},"transform":[{"filter":"datum.site==3"}],"mark":{"type":"area","interpolate":"monotone","fill":"#fff","fillOpacity":0.2,"line":{"color":"#777","strokeWidth":0.8}}},
{"data":{"name":"notes"},"transform":[{"filter":"datum.site==3&&datum.kind=='band'"}],"mark":{"type":"text","fontSize":22.4,"baseline":"alphabetic"},"encoding":{"text":{"field":"t"}}},
{"data":{"name":"notes"},"transform":[{"filter":"datum.site==3&&datum.kind=='n'"}],"mark":{"type":"text","fontSize":30.5,"baseline":"middle"},"encoding":{"text":{"field":"t"}}}
]},
{"width":439,"height":196,"encoding":{"x":{"field":"age","type":"quantitative","scale":{"domain":[-0.1,21],"nice":false,"zero":false,"padding":0},"axis":{"values":[1,2,3,4,5,6,7,8,9,10,11,12,13,14,15,16,17,18,19,20,21],"labels":false,"title":null,"tickSize":{"condition":{"test":"datum.value%2==1","value":10},"value":6}}},"y":{"field":"v","type":"quantitative","scale":{"domain":[0,0.5],"nice":false},"axis":{"values":[0,0.1,0.2,0.3,0.4,0.5],"title":null,"labels":false}}},"layer":[
{"data":{"name":"mhw"},"mark":{"type":"rect","color":"#f0f0f0"},"encoding":{"x":{"field":"from","type":"quantitative"},"x2":{"field":"to"},"y":{"field":"low","type":"quantitative"},"y2":{"field":"high"}}},
{"data":{"name":"kde"},"transform":[{"filter":"datum.site==4"}],"mark":{"type":"area","interpolate":"monotone","fill":"#d2d2d2"}},
{"data":{"name":"hatched"},"transform":[{"filter":"datum.site==4"}],"mark":{"type":"bar","orient":"vertical","width":9.7,"stroke":"#000","strokeWidth":1.3,"fill":{"expr":"datum.v<.03?g2:datum.v<.055?g3:datum.v<.08?g4:datum.v<.12?g5:datum.v<.15?g6:datum.v<.22?g8:datum.v<.33?g12:g18"}}},
{"data":{"name":"light"},"transform":[{"filter":"datum.site==4"}],"mark":{"type":"bar","orient":"vertical","width":16.7,"color":"#808080","opacity":0.6}},
{"data":{"name":"kde"},"transform":[{"filter":"datum.site==4"}],"mark":{"type":"area","interpolate":"monotone","fill":"#fff","fillOpacity":0.2,"line":{"color":"#777","strokeWidth":0.8}}},
{"data":{"name":"notes"},"transform":[{"filter":"datum.site==4&&datum.kind=='band'"}],"mark":{"type":"text","fontSize":22.4,"baseline":"alphabetic"},"encoding":{"text":{"field":"t"}}},
{"data":{"name":"notes"},"transform":[{"filter":"datum.site==4&&datum.kind=='n'"}],"mark":{"type":"text","fontSize":30.5,"baseline":"middle"},"encoding":{"text":{"field":"t"}}}
]},
{"width":439,"height":197.3,"encoding":{"x":{"field":"age","type":"quantitative","scale":{"domain":[-0.1,21],"nice":false,"zero":false,"padding":0},"axis":{"values":[1,2,3,4,5,6,7,8,9,10,11,12,13,14,15,16,17,18,19,20,21],"title":"Predicted age class (i) and predicted age (yr)","titleFontSize":33.3,"titleX":451.7,"titleY":73,"titleBaseline":"middle","labelExpr":"datum.value%2==1?datum.label:''","tickSize":{"condition":{"test":"datum.value%2==1","value":10},"value":6}}},"y":{"field":"v","type":"quantitative","scale":{"domain":[0,0.5],"nice":false},"axis":{"values":[0,0.1,0.2,0.3,0.4,0.5],"title":null,"labelExpr":"datum.value==0?'0':format(datum.value,'.1f')"}}},"layer":[
{"data":{"name":"mhw"},"mark":{"type":"rect","color":"#f0f0f0"},"encoding":{"x":{"field":"from","type":"quantitative"},"x2":{"field":"to"},"y":{"field":"low","type":"quantitative"},"y2":{"field":"high"}}},
{"data":{"name":"kde"},"transform":[{"filter":"datum.site==5"}],"mark":{"type":"area","interpolate":"monotone","fill":"#d2d2d2"}},
{"data":{"name":"hatched"},"transform":[{"filter":"datum.site==5"}],"mark":{"type":"bar","orient":"vertical","width":9.7,"stroke":"#000","strokeWidth":1.3,"fill":{"expr":"datum.v<.03?g2:datum.v<.055?g3:datum.v<.08?g4:datum.v<.12?g5:datum.v<.15?g6:datum.v<.22?g8:datum.v<.33?g12:g18"}}},
{"data":{"name":"light"},"transform":[{"filter":"datum.site==5"}],"mark":{"type":"bar","orient":"vertical","width":16.7,"color":"#808080","opacity":0.6}},
{"data":{"name":"kde"},"transform":[{"filter":"datum.site==5"}],"mark":{"type":"area","interpolate":"monotone","fill":"#fff","fillOpacity":0.2,"line":{"color":"#777","strokeWidth":0.8}}},
{"data":{"name":"notes"},"transform":[{"filter":"datum.site==5&&datum.kind=='band'"}],"mark":{"type":"text","fontSize":22.4,"baseline":"alphabetic"},"encoding":{"text":{"field":"t"}}},
{"data":{"name":"notes"},"transform":[{"filter":"datum.site==5&&datum.kind=='n'"}],"mark":{"type":"text","fontSize":30.5,"baseline":"middle"},"encoding":{"text":{"field":"t"}}}
]},
{"width":439,"height":197.3,"encoding":{"x":{"field":"age","type":"quantitative","scale":{"domain":[-0.1,21],"nice":false,"zero":false,"padding":0},"axis":{"values":[1,2,3,4,5,6,7,8,9,10,11,12,13,14,15,16,17,18,19,20,21],"title":null,"labelExpr":"datum.value%2==1?datum.label:''","tickSize":{"condition":{"test":"datum.value%2==1","value":10},"value":6}}},"y":{"field":"v","type":"quantitative","scale":{"domain":[0,0.5],"nice":false},"axis":{"values":[0,0.1,0.2,0.3,0.4,0.5],"title":null,"labels":false}}},"layer":[
{"data":{"name":"mhw"},"mark":{"type":"rect","color":"#f0f0f0"},"encoding":{"x":{"field":"from","type":"quantitative"},"x2":{"field":"to"},"y":{"field":"low","type":"quantitative"},"y2":{"field":"high"}}},
{"data":{"name":"kde"},"transform":[{"filter":"datum.site==6"}],"mark":{"type":"area","interpolate":"monotone","fill":"#d2d2d2"}},
{"data":{"name":"hatched"},"transform":[{"filter":"datum.site==6"}],"mark":{"type":"bar","orient":"vertical","width":9.7,"stroke":"#000","strokeWidth":1.3,"fill":{"expr":"datum.v<.03?g2:datum.v<.055?g3:datum.v<.08?g4:datum.v<.12?g5:datum.v<.15?g6:datum.v<.22?g8:datum.v<.33?g12:g18"}}},
{"data":{"name":"light"},"transform":[{"filter":"datum.site==6"}],"mark":{"type":"bar","orient":"vertical","width":16.7,"color":"#808080","opacity":0.6}},
{"data":{"name":"kde"},"transform":[{"filter":"datum.site==6"}],"mark":{"type":"area","interpolate":"monotone","fill":"#fff","fillOpacity":0.2,"line":{"color":"#777","strokeWidth":0.8}}},
{"data":{"name":"notes"},"transform":[{"filter":"datum.site==6&&datum.kind=='band'"}],"mark":{"type":"text","fontSize":22.4,"baseline":"alphabetic"},"encoding":{"text":{"field":"t"}}},
{"data":{"name":"notes"},"transform":[{"filter":"datum.site==6&&datum.kind=='n'"}],"mark":{"type":"text","fontSize":30.5,"baseline":"middle"},"encoding":{"text":{"field":"t"}}}
]}
],
"config":{"view":{"stroke":null},"axis":{"labelFont":"Liberation Serif","labelFontWeight":"bold","titleFont":"Liberation Serif","titleFontWeight":"bold","grid":false,"domainColor":"#000","tickColor":"#000","domainWidth":2,"tickWidth":2,"labelColor":"#111","titleColor":"#111","zindex":1,"labelOverlap":false,"labelFlush":false},"axisX":{"labelFontSize":26,"labelPadding":5,"titleAngle":0},"axisY":{"tickSize":8,"labelFontSize":28,"labelPadding":4},"text":{"font":"Liberation Serif","fontWeight":"bold","align":"center","color":"#111"}}}
